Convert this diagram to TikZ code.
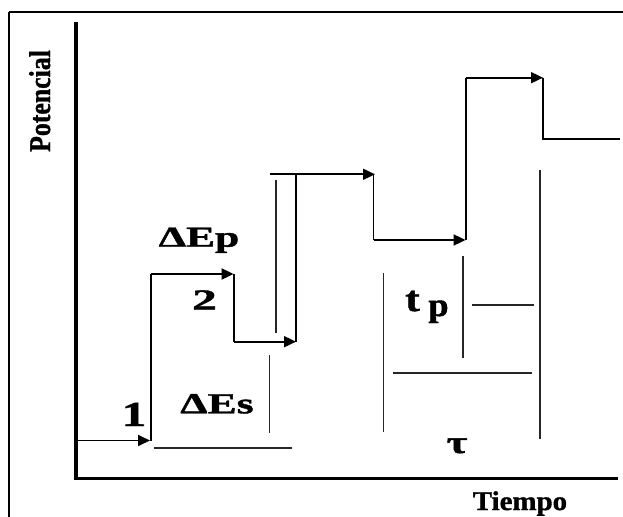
\documentclass[tikz,border=0pt]{standalone}
\usepackage{fontspec}
\setmainfont{Liberation Serif}[BoldFeatures={FakeBold=1.2}]
\usepackage{graphicx}
\usetikzlibrary{arrows.meta}
\tikzset{
  stair/.style={line width=1.8bp, black},
  stairarrow/.style={line width=1.8bp, black, -{Triangle[length=12bp,width=11bp]}},
  bracket/.style={line width=1.7bp, black!85},
  axis/.style={line width=3.8bp, black},
  lbl/.style={inner sep=0pt, anchor=base, font=\bfseries}
}
\newcommand{\lblfont}[2]{\fontsize{#1bp}{#1bp}\selectfont}
\begin{document}
\begin{tikzpicture}[x=1bp,y=-1bp]
\useasboundingbox (0,0) rectangle (623,517);
\fill[white] (0,0) rectangle (623,517);
% frame (top and left only visible)
\draw[line width=1.5bp] (9,11.8) -- (623,11.8);
\draw[line width=1.5bp] (9,11.8) -- (9,517);
% axes
\coordinate (origin) at (76,478.5);
\coordinate (ytop) at (76,22);
\coordinate (xend) at (618,478.5);
\draw[axis] (ytop) -- (origin) -- (xend);
% staircase coordinates
\coordinate (s0) at (76,440.5);
\coordinate (t1) at (150,440.5);
\coordinate (r1b) at (151,440.5);
\coordinate (r1t) at (151,274);
\coordinate (t2) at (233.6,274);
\coordinate (r2t) at (233.6,274);
\coordinate (r2b) at (233.6,341.7);
\coordinate (t3) at (296,341.7);
\coordinate (r3b) at (296,341.7);
\coordinate (r3t) at (296,174.3);
\coordinate (h4s) at (270,174.3);
\coordinate (t4) at (375,174.3);
\coordinate (r4t) at (373.5,174.3);
\coordinate (r4b) at (373.5,240);
\coordinate (t5) at (465.6,240);
\coordinate (r5b) at (465.6,240);
\coordinate (r5t) at (465.6,77.7);
\coordinate (t6) at (543,77.7);
\coordinate (r6t) at (543,77.7);
\coordinate (r6b) at (543,138.7);
\coordinate (hend) at (620,138.7);
% staircase
\draw[stairarrow] (s0) -- (t1);
\draw[stair] (r1b) -- (r1t);
\draw[stairarrow] (r1t) -- (t2);
\draw[stair] (r2t) -- (r2b);
\draw[stairarrow] (r2b) -- (t3);
\draw[stair] (r3b) -- (r3t);
\draw[stairarrow] (h4s) -- (t4);
\draw[stair] (r4t) -- (r4b);
\draw[stairarrow] (r4b) -- (t5);
\draw[stair] (r5b) -- (r5t);
\draw[stairarrow] (r5t) -- (t6);
\draw[stair] (r6t) -- (r6b) -- (hend);
% extra lines
\coordinate (p1a) at (276,180); \coordinate (p1b) at (276,333);
\draw[bracket] (p1a) -- (p1b);
\coordinate (esv1) at (269.4,355); \coordinate (esv2) at (269.4,433);
\draw[bracket] (esv1) -- (esv2);
\coordinate (esh1) at (154,448); \coordinate (esh2) at (292,448);
\draw[bracket] (esh1) -- (esh2);
\coordinate (tav1) at (383.4,273); \coordinate (tav2) at (383.4,431.7);
\draw[bracket] (tav1) -- (tav2);
\coordinate (tah1) at (393,372.7); \coordinate (tah2) at (531.6,372.7);
\draw[bracket] (tah1) -- (tah2);
\coordinate (tbv1) at (540.3,170); \coordinate (tbv2) at (540.3,439.3);
\draw[bracket] (tbv1) -- (tbv2);
\coordinate (tpv1) at (462.9,256); \coordinate (tpv2) at (462.9,358);
\draw[bracket] (tpv1) -- (tpv2);
\coordinate (tph1) at (472,305); \coordinate (tph2) at (533.6,305);
\draw[bracket] (tph1) -- (tph2);
% labels
\node[lbl] (dep) at (199,246.7) {\lblfont{29}{}\scalebox{1.5}[1]{ΔEp}};
\node[lbl] (des) at (217,413.3) {\lblfont{29}{}\scalebox{1.5}[1]{ΔEs}};
\node[lbl] (one) at (134,426) {\lblfont{35}{}\scalebox{1.4}[1]{1}};
\node[lbl] (two) at (204.5,309.5) {\lblfont{29}{}\scalebox{1.7}[1]{2}};
\node[lbl] (tt) at (412.5,311) {\lblfont{36}{}\scalebox{1.2}[1]{t}};
\node[lbl] (tpp) at (438.5,316) {\lblfont{33}{}\scalebox{1.1}[1]{p}};
\node[lbl] (tau) at (457,453) {\lblfont{32}{}\scalebox{1.4}[1]{τ}};
\node[lbl] (tiempo) at (520,510) {\lblfont{27}{}\scalebox{1.07}[1]{Tiempo}};
\node[lbl, rotate=90] (pot) at (50,101) {\lblfont{30}{}\scalebox{0.86}[1]{Potencial}};
\end{tikzpicture}
\end{document}
